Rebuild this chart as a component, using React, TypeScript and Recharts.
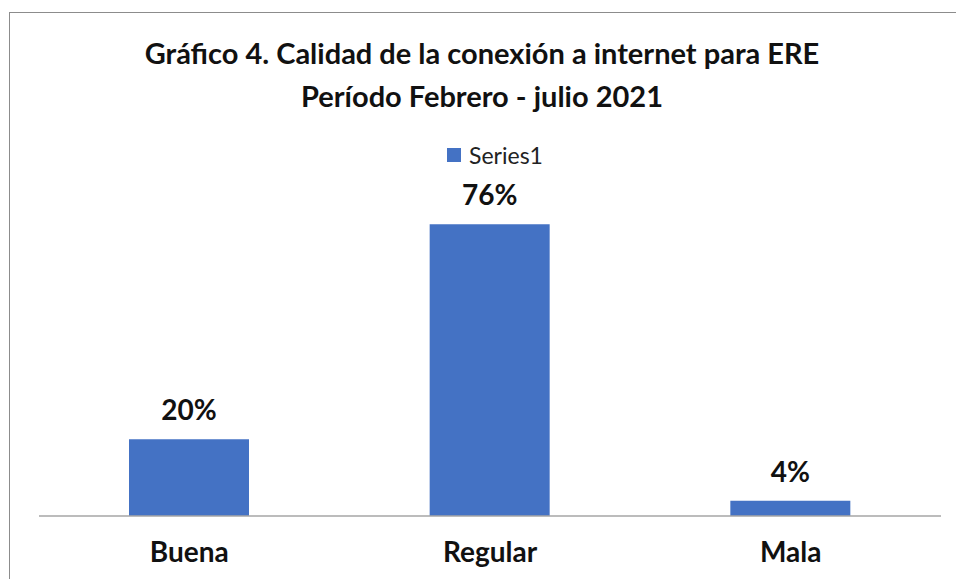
import React from "react";
import { BarChart, Bar, XAxis, YAxis, LabelList } from "recharts";

const categories = ["Buena", "Regular", "Mala"];
const series1 = [0.2, 0.76, 0.04];
const titleLines = [
  "Gráfico 4. Calidad de la conexión a internet para ERE",
  "Período Febrero - julio 2021",
];
const seriesName = "Series1";

const data = categories.map((c, i) => ({ name: c, value: series1[i] }));

const FONT = "Lato, 'Open Sans', sans-serif";

export default function App() {
  return (
    <div style={{ position: "absolute", left: 0, top: 0, width: 956, height: 579, overflow: "hidden", background: "#fff" }}>
      <div style={{ position: "absolute", left: 9, top: 12, width: 980, height: 620, border: "1px solid #8c8c8c", boxSizing: "border-box" }} />
      <div style={{ position: "absolute", left: 0, top: 31, width: 964, textAlign: "center", fontFamily: FONT, fontWeight: 700, fontSize: 29, lineHeight: "43px", color: "#111" }}>
        <div>{titleLines[0]}</div>
        <div>{titleLines[1]}</div>
      </div>
      <div style={{ position: "absolute", left: 0, top: 142, width: 990, display: "flex", justifyContent: "center", alignItems: "center", fontFamily: FONT, fontSize: 23, lineHeight: "26px", color: "#222" }}>
        <span style={{ display: "inline-block", width: 14, height: 14, background: "#4472C4", marginRight: 8 }} />
        <span>{seriesName}</span>
      </div>
      <div style={{ position: "absolute", left: 0, top: 0 }}>
        <BarChart width={956} height={579} data={data} margin={{ top: 209, right: 15, bottom: 0, left: 39 }}>
          <XAxis
            dataKey="name"
            height={63}
            axisLine={{ stroke: "#a6a6a6", strokeWidth: 1.5 }}
            tickLine={false}
            tick={{ fontFamily: FONT, fontWeight: 700, fontSize: 28, fill: "#111" }}
            tickMargin={20}
          />
          <YAxis hide domain={[0, 0.8]} />
          <Bar dataKey="value" name={seriesName} fill="#4472C4" barSize={120} isAnimationActive={false}>
            <LabelList
              dataKey="value"
              position="top"
              offset={19}
              formatter={(v: number) => `${Math.round(v * 100)}%`}
              style={{ fontFamily: FONT, fontWeight: 700, fontSize: 28, fill: "#111" }}
            />
          </Bar>
        </BarChart>
      </div>
    </div>
  );
}
